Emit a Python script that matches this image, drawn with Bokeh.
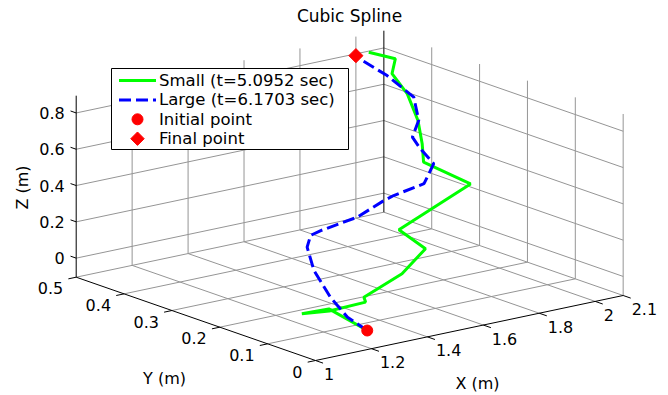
import numpy as np
from bokeh.plotting import figure
from bokeh.models import Range1d
from bokeh.embed import file_html
from bokeh.resources import INLINE
from bokeh.core.properties import value

# ---------------- data ----------------
title_text = "Cubic Spline"
x_label = "X (m)"
y_label = "Y (m)"
z_label = "Z (m)"

x_lim = [1.0, 2.1]
y_lim = [0.0, 0.5]
z_lim = [-0.105, 0.895]

x_ticks = [1.0, 1.2, 1.4, 1.6, 1.8, 2.0, 2.1]
x_tick_labels = ["1", "1.2", "1.4", "1.6", "1.8", "2", "2.1"]
y_ticks = [0.0, 0.1, 0.2, 0.3, 0.4, 0.5]
y_tick_labels = ["0", "0.1", "0.2", "0.3", "0.4", "0.5"]
z_ticks = [0.0, 0.2, 0.4, 0.6, 0.8]
z_tick_labels = ["0", "0.2", "0.4", "0.6", "0.8"]

small_x = [1.190, 1.101, 1.059, 1.210, 1.393, 1.440, 1.631, 1.768, 1.726, 2.035, 1.922, 1.970, 2.008, 2.023, 2.023, 2.088, 2.046]
small_y = [0.000, 0.031, 0.063, 0.094, 0.125, 0.156, 0.188, 0.219, 0.250, 0.281, 0.313, 0.344, 0.375, 0.406, 0.438, 0.469, 0.500]
small_z = [-0.006, 0.118, 0.076, 0.013, -0.026, -0.043, -0.005, 0.060, 0.149, 0.273, 0.401, 0.458, 0.545, 0.658, 0.740, 0.773, 0.794]

large_x = [1.185, 1.164, 1.154, 1.145, 1.172, 1.234, 1.320, 1.501, 1.647, 1.733, 1.891, 1.977, 1.979, 2.000, 2.074, 2.070, 2.043, 2.023]
large_y = [0.000, 0.029, 0.059, 0.088, 0.118, 0.147, 0.176, 0.206, 0.235, 0.265, 0.294, 0.324, 0.353, 0.382, 0.412, 0.420, 0.460, 0.500]
large_z = [0.000, 0.053, 0.140, 0.263, 0.355, 0.373, 0.345, 0.332, 0.350, 0.322, 0.309, 0.364, 0.419, 0.449, 0.490, 0.612, 0.703, 0.756]

initial_point = [1.185, 0.0, 0.0]
final_point = [2.0, 0.5, 0.79]

legend_labels = ["Small (t=5.0952 sec)", "Large (t=6.1703 sec)", "Initial point", "Final point"]

# ---------------- layout / projection (orthographic view) ----------------
W, H = 668, 395
ORIGIN = (315.0, 360.0)      # screen position of (x_lim[0], y_lim[0], z_lim[0])
EX = (279.7, -59.1)          # screen shift per unit of x
EY = (-478.6, -166.6)        # screen shift per unit of y
EZ = (0.0, -181.5)           # screen shift per unit of z


def proj(x, y, z):
    x = np.asarray(x, dtype=float)
    y = np.asarray(y, dtype=float)
    z = np.asarray(z, dtype=float)
    dx, dy, dz = x - x_lim[0], y - y_lim[0], z - z_lim[0]
    sx = ORIGIN[0] + dx * EX[0] + dy * EY[0] + dz * EZ[0]
    sy = ORIGIN[1] + dx * EX[1] + dy * EY[1] + dz * EZ[1]
    return sx, sy


def unit(v):
    n = (v[0] ** 2 + v[1] ** 2) ** 0.5
    return (v[0] / n, v[1] / n)


FONT = value("DejaVu Sans")
GRID_COLOR = "#959595"

p = figure(width=W, height=H,
           x_range=Range1d(0, W), y_range=Range1d(H, 0),
           x_axis_type=None, y_axis_type=None,
           toolbar_location=None, output_backend="svg",
           min_border=0, outline_line_color=None,
           background_fill_color="white", border_fill_color="white")
p.xgrid.visible = False
p.ygrid.visible = False

x0, x1 = x_lim
y0, y1 = y_lim
z0, z1 = z_lim

# ---- grid lines on floor and back walls ----
gxs, gys = [], []


def add_seg(store_x, store_y, a, b):
    sx, sy = proj([a[0], b[0]], [a[1], b[1]], [a[2], b[2]])
    store_x.append(list(sx))
    store_y.append(list(sy))


for xt in x_ticks[1:]:
    add_seg(gxs, gys, (xt, y0, z0), (xt, y1, z0))
for yt in y_ticks[1:]:
    add_seg(gxs, gys, (x0, yt, z0), (x1, yt, z0))
for xt in x_ticks[1:-1]:
    add_seg(gxs, gys, (xt, y1, z0), (xt, y1, z1))
for zt in z_ticks:
    add_seg(gxs, gys, (x0, y1, zt), (x1, y1, zt))
for yt in y_ticks[:-1]:
    add_seg(gxs, gys, (x1, yt, z0), (x1, yt, z1))
for zt in z_ticks:
    add_seg(gxs, gys, (x1, y0, zt), (x1, y1, zt))

p.multi_line(xs=gxs, ys=gys, line_color=GRID_COLOR, line_width=1)

# ---- axis lines ----
axs, ays = [], []
add_seg(axs, ays, (x0, y0, z0), (x1, y0, z0))
add_seg(axs, ays, (x0, y0, z0), (x0, y1, z0))
add_seg(axs, ays, (x0, y1, z0), (x0, y1, z1))
add_seg(axs, ays, (x1, y1, z0), (x1, y1, z1))
p.multi_line(xs=axs, ys=ays, line_color="black", line_width=1)

# ---- ticks ----
TL = 8.0
TLZ = 6.0
uex = unit(EX)
uey = unit(EY)
txs, tys = [], []
for xt in x_ticks:
    sx, sy = proj(xt, y0, z0)
    txs.append([float(sx), float(sx) - TL * uey[0]])
    tys.append([float(sy), float(sy) - TL * uey[1]])
for yt in y_ticks:
    sx, sy = proj(x0, yt, z0)
    txs.append([float(sx), float(sx) - TL * uex[0]])
    tys.append([float(sy), float(sy) - TL * uex[1]])
for zt in z_ticks:
    sx, sy = proj(x0, y1, zt)
    txs.append([float(sx), float(sx) + TLZ * uey[0]])
    tys.append([float(sy), float(sy) + TLZ * uey[1]])
p.multi_line(xs=txs, ys=tys, line_color="black", line_width=1)

# ---- tick labels ----
TICK_FS = "16px"
sx, sy = proj(x_ticks, [y0] * len(x_ticks), [z0] * len(x_ticks))
p.text(x=list(sx + 8.5), y=list(sy + 13.5), text=x_tick_labels, text_font=FONT,
       text_font_size=TICK_FS, text_align="left", text_baseline="middle", text_color="black")
sx, sy = proj([x0] * len(y_ticks), y_ticks, [z0] * len(y_ticks))
p.text(x=list(sx - 13.0), y=list(sy + 11.0), text=y_tick_labels, text_font=FONT,
       text_font_size=TICK_FS, text_align="right", text_baseline="middle", text_color="black")
sx, sy = proj([x0] * len(z_ticks), [y1] * len(z_ticks), z_ticks)
p.text(x=list(sx - 11.5), y=list(sy), text=z_tick_labels, text_font=FONT,
       text_font_size=TICK_FS, text_align="right", text_baseline="middle", text_color="black")

# ---- axis titles and title ----
p.text(x=[477.0], y=[383.0], text=[x_label], text_font=FONT, text_font_size=TICK_FS,
       text_align="center", text_baseline="middle", text_color="black")
p.text(x=[164.0], y=[378.0], text=[y_label], text_font=FONT, text_font_size=TICK_FS,
       text_align="center", text_baseline="middle", text_color="black")
p.text(x=[22.0], y=[187.0], text=[z_label], text_font=FONT, text_font_size=TICK_FS,
       text_align="center", text_baseline="middle", text_color="black", angle=np.pi / 2)
p.text(x=[349.0], y=[15.5], text=[title_text], text_font=FONT, text_font_size="17px",
       text_align="center", text_baseline="middle", text_color="black")

# ---- trajectories ----
gx, gy = proj(small_x, small_y, small_z)
p.line(x=list(gx), y=list(gy), line_color="#00ff00", line_width=3)
bx, by = proj(large_x, large_y, large_z)
p.line(x=list(bx), y=list(by), line_color="#0000ff", line_width=3, line_dash="12 5")

ix, iy = proj(initial_point[0], initial_point[1], initial_point[2])
p.scatter(x=[float(ix)], y=[float(iy)], marker="circle", size=11,
          fill_color="#ff0000", line_color="#ff0000")
fx, fy = proj(final_point[0], final_point[1], final_point[2])
p.scatter(x=[float(fx)], y=[float(fy)], marker="square", size=10, angle=np.pi / 4,
          fill_color="#ff0000", line_color="#ff0000")

# ---- legend (drawn in screen space) ----
LEG_L, LEG_T, LEG_R, LEG_B = 111.0, 68.0, 348.0, 149.0
ROW0, ROW_DY = 80.0, 19.4
LINE_X0, LINE_X1, MARK_X, TEXT_X = 118.5, 155.5, 137.0, 158.5
rows = [ROW0 + i * ROW_DY for i in range(len(legend_labels))]

p.quad(left=[LEG_L], right=[LEG_R], top=[LEG_T], bottom=[LEG_B],
       fill_color="white", line_color="black", line_width=1)
p.line(x=[LINE_X0, LINE_X1], y=[rows[0], rows[0]], line_color="#00ff00", line_width=3)
p.line(x=[LINE_X0, LINE_X1], y=[rows[1], rows[1]], line_color="#0000ff", line_width=3,
       line_dash="12 5")
p.scatter(x=[MARK_X], y=[rows[2]], marker="circle", size=11,
          fill_color="#ff0000", line_color="#ff0000")
p.scatter(x=[MARK_X], y=[rows[3]], marker="square", size=9.5, angle=np.pi / 4,
          fill_color="#ff0000", line_color="#ff0000")
p.text(x=[TEXT_X] * len(legend_labels), y=rows, text=legend_labels, text_font=FONT,
       text_font_size="16.5px", text_align="left", text_baseline="middle", text_color="black")

open("out.html", "w").write(file_html(p, INLINE))
